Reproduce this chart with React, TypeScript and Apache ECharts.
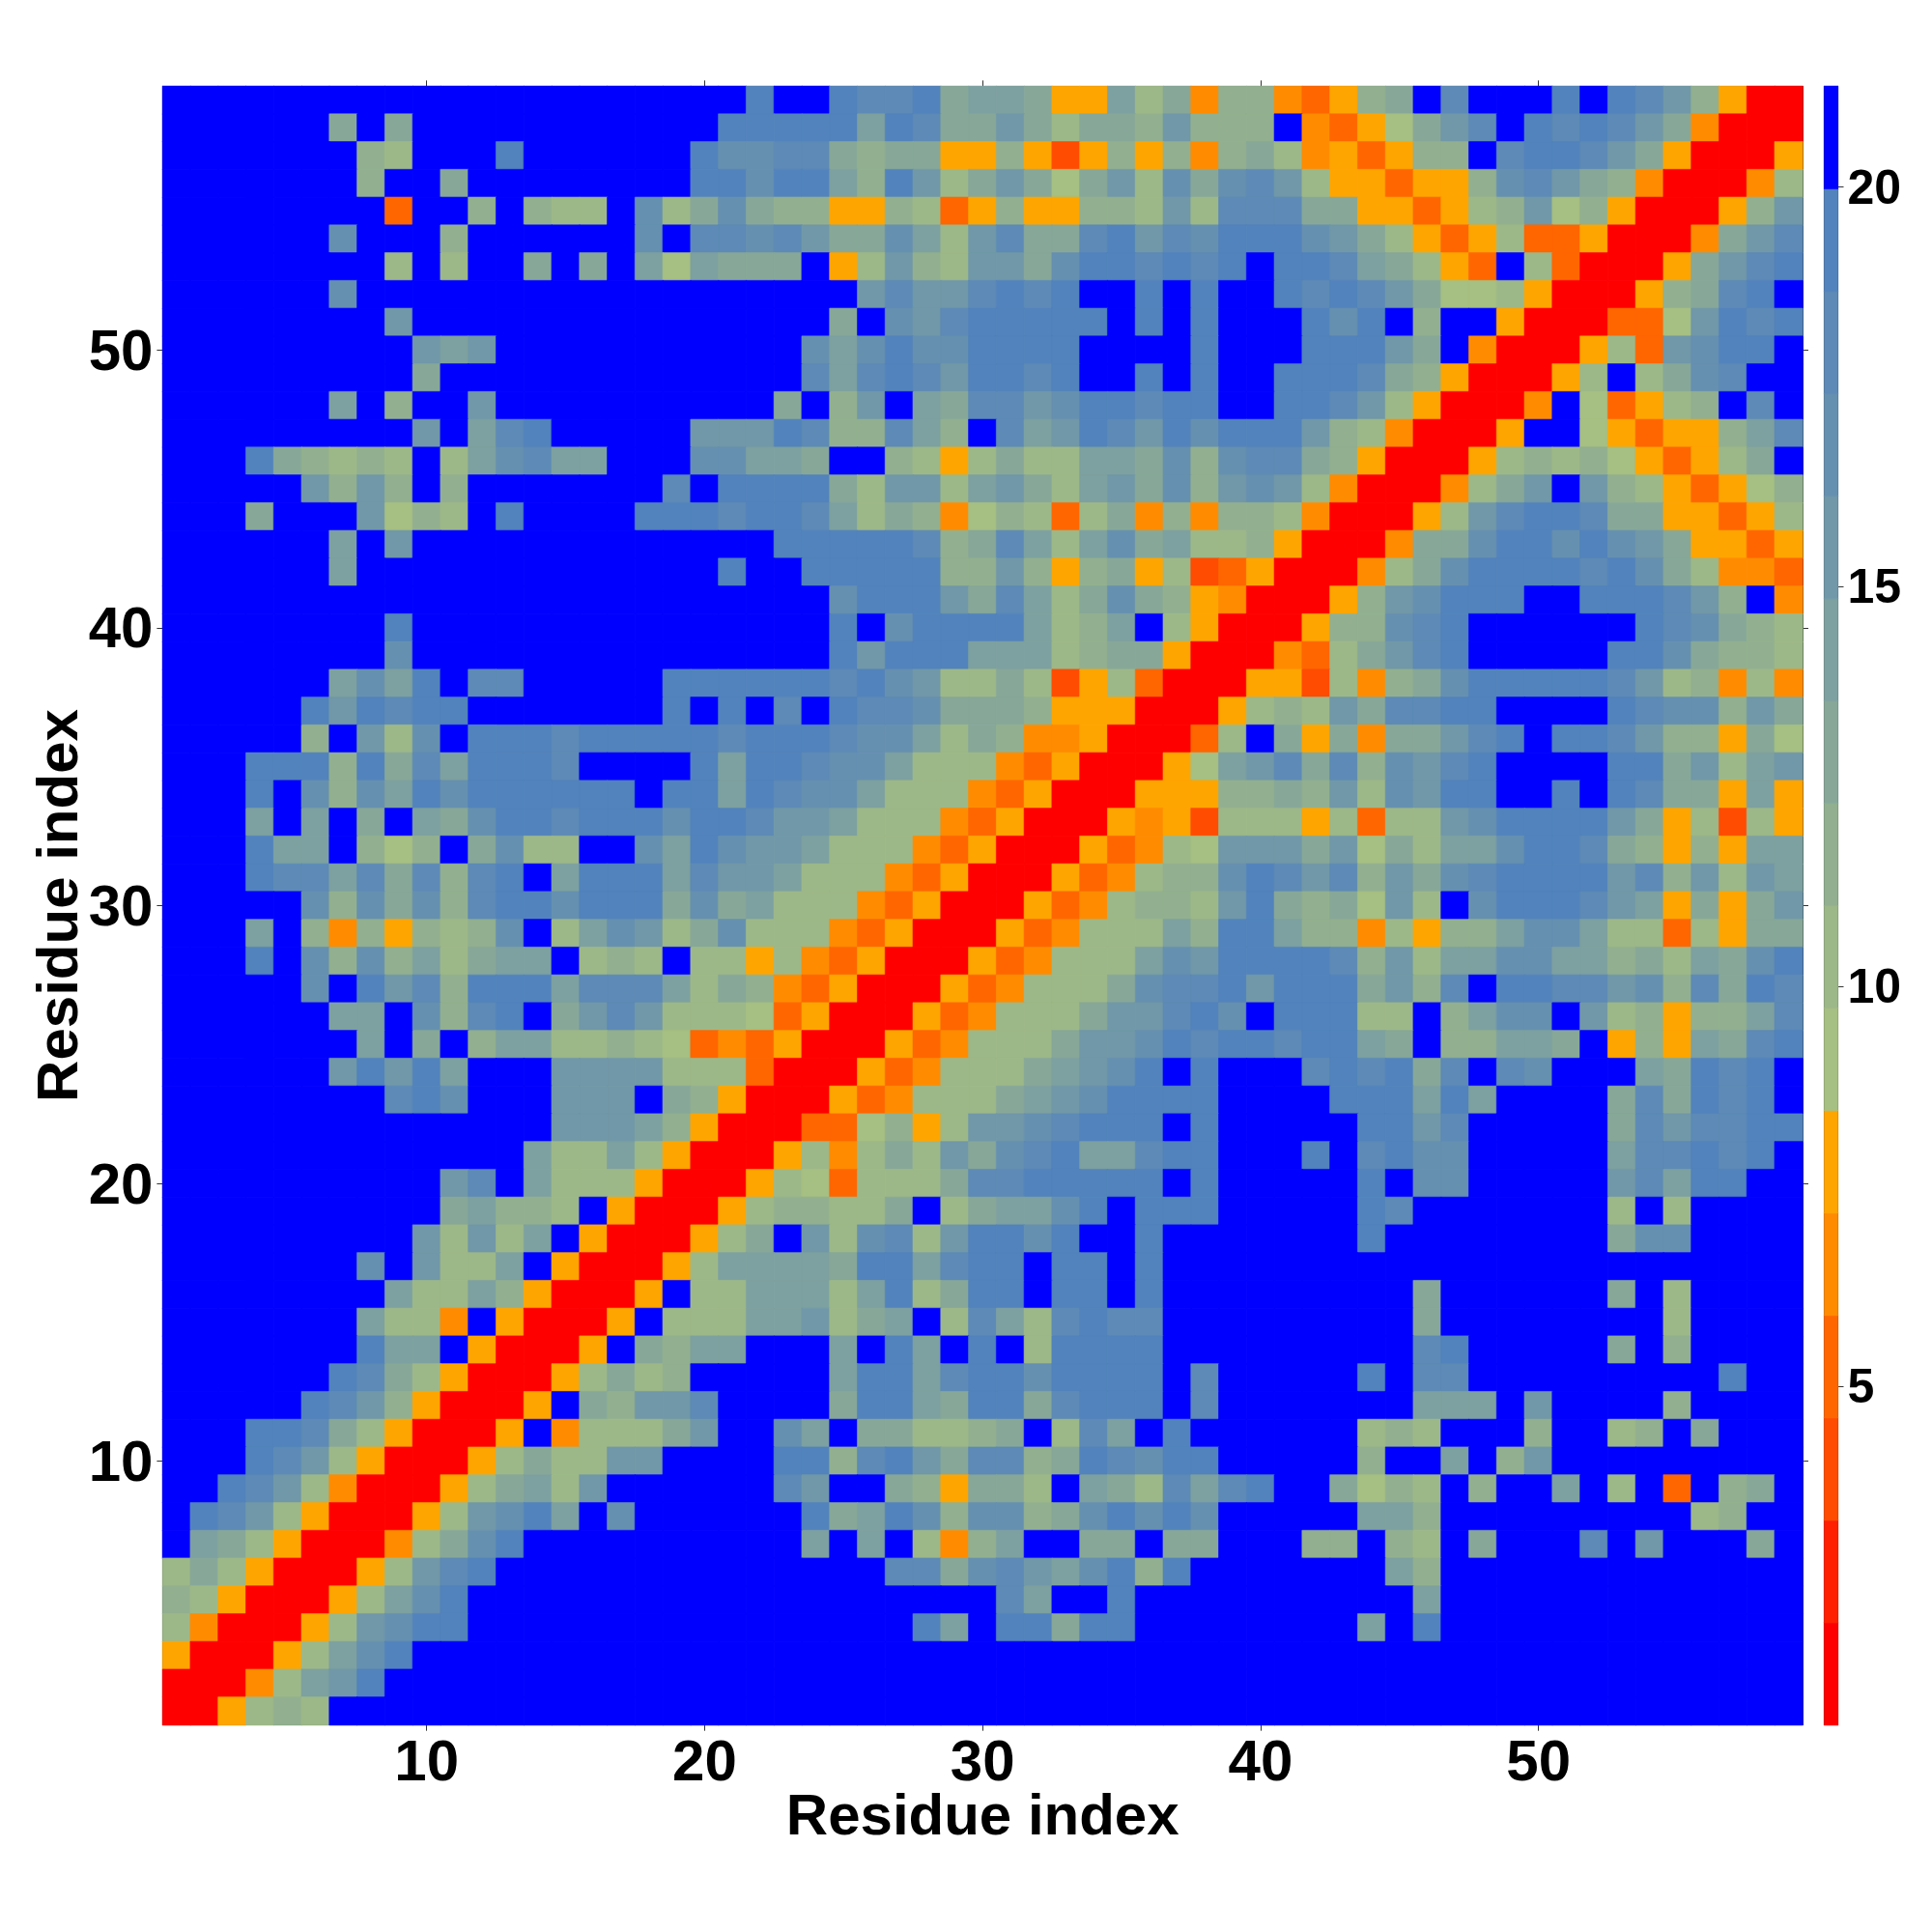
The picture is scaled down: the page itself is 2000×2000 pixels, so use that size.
import React, { useEffect, useRef } from "react";
import * as echarts from "echarts";

// Colour levels, lowest first: one per band of the colour bar.
const levelColors = [
  "#ff0000", "#ff2000", "#ff4c00", "#ff6600", "#ff8c00", "#ffa500",
  "#a6bf82", "#9db888", "#92b08f", "#87a898", "#7da1a0", "#7198a8",
  "#6690b0", "#5d8ab6", "#5283bc", "#0000ff",
];
const scaleMin = 0.76;
const scaleStep = 1.2813;
const colorBarTicks = [5, 10, 15, 20];
const axisTitle = "Residue index";
const residues = Array.from({ length: 59 }, (_, i) => String(i + 1));

// Band index (hex digit) of every cell. First line is residue 59 of the y axis, columns run 1..59.
const rows = [
  "ffffffffff ffffffffff feffedde9a a955a79488 43589fdfff efedb8500",
  "ffffff9f9f ffffffffff eeeeeaed99 b97998b888 f43569bdfe dedb94000",
  "fffffff87f ffeffffffe ccdd989955 8525858489 7453588fde edb950005",
  "fffffff8ff 9ffffffffe eceea8eb79 b969b7c9cd b7553558cd b98400047",
  "ffffffff3f f8f877fc79 c988558735 855887b7dd d99553578b 68500058b",
  "ffffffcfff 8ffffffcfd dcdb99ca7b d99debdcee ecb9753573 3500049bd",
  "ffffffff7f 7ff9f9fa6a 999f57b87b b9ceededef eeda9753f7 300059bde",
  "ffffffcfff ffffffffff fffffbdbbd edeffefeff ededb96675 000589def",
  "ffffffffbf ffffffffff ffff9fcbde eeeefefeff fecef8ff50 00336bede",
  "fffffffffb abffffffff fffcacecce eeeffffeff feeeb9f400 0573bceef",
  "fffffffff9 ffffffffff fffdadedbe edeffefeff eeed985000 57f79cdff",
  "ffffffaf8f fbffffffff ff9f8bfa9d dbceedeeff eedb750004 f63578fdf",
  "fffffffffb fadefffffb bbed88da8f dabedbecee eb8740005f f653558ad",
  "fffe98787f 7acdaafffc caa9ff8757 977aa9c8cd d985000578 78653579f",
  "fffffb8b8f 8fffffffdf eeee97bb7a b97ab9c8bc b74000479b fb8753568",
  "fff9fffb68 7feffffeee deeda79846 8737948488 7400057bde ed9955357",
  "ffffffafbf ffffffffff ffeeeeed89 da7ac9a778 5000499cee cecb95535",
  "ffffffafff ffffffffff effeeeee88 b858957235 000479ceee edec97443",
  "ffffffffff ffffffffff ffffceeeb9 da79c98540 0058bceeef feeedb8f4",
  "ffffffffef ffffffffff ffffefceee ea78af7500 0588cdefff fffedc987",
  "ffffffffcf ffffffffff ffffebeeea aa78995000 4379bdefff ffeec9887",
  "ffffffacae fddfffffee eeeedecb77 9725730005 527489ceee eedb78474",
  "fffffebede efffffffef efdfeddc99 9855500057 87b9ddeeff ffedcc8b9",
  "fffff8fb7c feeedeeeee deeedcca79 844500037f 959499bdef eedb88596",
  "fffeee8e9d aeeedffffe aeedcca777 43500056ab d9d8cbdeff ffee9b7ab",
  "fffefc8cae ceeeeeefee aedcca7774 3500055588 98b7cbeeff efed995a5",
  "fffafaf9fa 9ceedeeece edbba77743 5000545277 757377bcee eeb957275",
  "fffeaaf868 f9c77ffcae cbba777435 00053476bb b9b697aace ed98585aa",
  "fffeddad9d 8defaeeead bba7774350 00534788ce dbd8b9cdee eebd8b7ba",
  "fffffc8c9c 8deeceee9c 9a77743500 05347887be 9896b7fcee edba5959b",
  "fffaf84858 78cf7acb79 c777435000 534777a8ee a8847588ac ca7737599",
  "fffefc8c8a 79aaf787f7 7574350005 34777acbee eed8b7aacc aa897a9ce",
  "fffffcfebd 8eeeaddda7 9843500053 47779cddeb eee9b8dfee ddbc8d9ed",
  "ffffffaafc 8def9bdb77 7635000534 7779bbdecf eee77f8acc fb78588ad",
  "fffffffaf9 f8aa778763 4350005347 779bbcedee deea9f88aa 9f585a9de",
  "ffffffbebe afffbbbb77 7300053477 79abcefeff fdede9dfdc fffa9edef",
  "ffffffffde cfffbbbf98 5000534777 9abceeeeff ffeeeaeaff ff9d9edef",
  "ffffffffff ffffbbba85 000336857b bcdeeefeff fffeebdfff ff9dbddee",
  "ffffffffff fffa77a750 00574797b9 cdeaadeeff fefdeccfff ffaddedef",
  "ffffffffff bdfa777500 057637779d deeeeefeff fffefccfff ffbdaeeff",
  "ffffffffff 9a887f5000 5788779f79 aacefeeeff fffedfffff ff7f7ffff",
  "fffffffffb 7b7af50005 79fb7cd7be eceffeffff fffeffffff ff9ccffff",
  "fffffffcfb 77af500057 aaaa9eeade efeefeffff ffffffffff fffffffff",
  "ffffffffa7 7a850005f7 7aaa7ae79e efeefeffff fffff9ffff ff9f7ffff",
  "fffffffa77 4f50005f77 7aab79af7d a7deddffff fffff9ffff ffff7ffff",
  "fffffffeaa f50005f98a afffafeafe f7eeeeffff fffffdefff ff9f8ffff",
  "ffffffed97 500057978f ffffaeeade eceeeefdff fffefddfff ffffffeff",
  "fffffedb85 0005f98bbd ffff9eea9e e9deeefdff fffffaaafb ffff8ffff",
  "fffeed9750 005f47779b ffcaf99778 9f7dafefff fff787fff8 ff78f9fff",
  "fffedb7500 057977bbff ffee8deb9d d89edceeff fff8ffaf8b fffffffff",
  "ffedb74000 579a7bffff ffdbff9859 97fa97dade ff9687f8ff af7f3f89f",
  "fedb750005 7bceafcfff fffe9aec8c c89cececff fffaa8ffff fffff78ff",
  "fa97500047 9cefffffff fffafaf748 aff99f99ff f88f87f9ff fdfbfff9f",
  "797500057b deffffffff ffffffdd9c dbace8efff ffffa8ffff fffffffff",
  "87500057ac efffffffff ffffffffff daffefffff fffffaffff fffffffff",
  "7400057bce efffffffff fffffffeaf ee9eefffff fffafeffff fffffffff",
  "500057acef ffffffffff ffffffffff ffffffffff ffffffffff fffffffff",
  "00047abeff ffffffffff ffffffffff ffffffffff ffffffffff fffffffff",
  "005787ffff ffffffffff ffffffffff ffffffffff ffffffffff fffffffff",
];

const levelValue = (level: number) => scaleMin + (level + 0.5) * scaleStep;
// A hairline border in the cell's own colour closes the seams between neighbouring cells.
const cellStyle = (level: number) => ({ borderColor: levelColors[level], borderWidth: 0.6 });

const cells: { value: number[]; itemStyle: object }[] = [];
rows.forEach((row, r) => {
  row.replace(/ /g, "").split("").forEach((ch, c) => {
    const level = parseInt(ch, 16);
    cells.push({ value: [c, 58 - r, levelValue(level)], itemStyle: cellStyle(level) });
  });
});
const bandIndex = levelColors.map((_, i) => String(i));
const bandCells = levelColors.map((_, i) => ({ value: [0, i, levelValue(i)], itemStyle: cellStyle(i) }));

const FONT = "Liberation Sans";
const everyTenth = (i: number) => (i + 1) % 10 === 0;
const line = { show: true, lineStyle: { color: "#333", width: 1 } };

export default function App() {
  const ref = useRef<HTMLDivElement>(null);
  useEffect(() => {
    document.body.style.margin = "0";
    const chart = echarts.init(ref.current!, null, { renderer: "svg" });
    const mainTick = { show: true, length: 6, alignWithLabel: true, interval: everyTenth, lineStyle: { color: "#333", width: 1 } };
    const mainLabel = {
      show: true, interval: everyTenth, fontFamily: FONT, fontWeight: "bold" as const, fontSize: 60, color: "#000",
    };
    chart.setOption({
      animation: false,
      backgroundColor: "#fff",
      grid: [
        { left: 168.4, top: 89.3, width: 1697.6, height: 1696.4, containLabel: false },
        { left: 1888.5, top: 89.3, width: 14, height: 1696.4, containLabel: false },
      ],
      xAxis: [
        {
          type: "category", gridIndex: 0, data: residues, position: "bottom",
          axisLine: line, axisTick: mainTick,
          axisLabel: { ...mainLabel, margin: 14, lineHeight: 46 },
          splitLine: { show: false }, splitArea: { show: false },
          name: axisTitle, nameLocation: "middle", nameGap: 70, nameMoveOverlap: false,
          nameTextStyle: { fontFamily: FONT, fontWeight: "bold", fontSize: 60, color: "#000", lineHeight: 46 },
        },
        {
          type: "category", gridIndex: 0, data: residues, position: "top",
          axisLine: line, axisTick: mainTick, axisLabel: { show: false }, splitLine: { show: false },
        },
        {
          type: "category", gridIndex: 1, data: [""], position: "bottom",
          axisLine: line, axisTick: { show: false }, axisLabel: { show: false }, splitLine: { show: false },
        },
      ],
      yAxis: [
        {
          type: "category", gridIndex: 0, data: residues, position: "left",
          axisLine: line, axisTick: mainTick,
          axisLabel: { ...mainLabel, margin: 10 },
          splitLine: { show: false }, splitArea: { show: false },
          name: axisTitle, nameLocation: "middle", nameGap: 79, nameRotate: 90, nameMoveOverlap: false,
          nameTextStyle: { fontFamily: FONT, fontWeight: "bold", fontSize: 60, color: "#000" },
        },
        {
          type: "category", gridIndex: 0, data: residues, position: "right",
          axisLine: line, axisTick: mainTick, axisLabel: { show: false }, splitLine: { show: false },
        },
        {
          type: "category", gridIndex: 1, data: bandIndex, position: "left",
          axisLine: line, axisTick: { show: false }, axisLabel: { show: false }, splitLine: { show: false },
        },
        {
          type: "value", gridIndex: 1, position: "right",
          min: scaleMin, max: scaleMin + 16 * scaleStep,
          axisLine: line,
          axisTick: { show: true, length: 6, customValues: colorBarTicks, lineStyle: { color: "#333", width: 1 } },
          axisLabel: {
            show: true, customValues: colorBarTicks, margin: 10,
            fontFamily: FONT, fontWeight: "bold", fontSize: 50, color: "#000",
          },
          splitLine: { show: false },
        },
      ],
      visualMap: {
        show: false,
        type: "piecewise",
        seriesIndex: [0, 1],
        pieces: levelColors.map((color, i) => ({
          min: scaleMin + i * scaleStep,
          max: scaleMin + (i + 1) * scaleStep,
          color,
        })),
      },
      series: [
        {
          type: "heatmap", xAxisIndex: 0, yAxisIndex: 0, data: cells, progressive: 0,
          emphasis: { disabled: true },
        },
        {
          type: "heatmap", xAxisIndex: 2, yAxisIndex: 2, data: bandCells, progressive: 0,
          emphasis: { disabled: true },
        },
      ],
    });
    return () => chart.dispose();
  }, []);
  return <div ref={ref} style={{ position: "absolute", left: 0, top: 0, width: 2000, height: 2000 }} />;
}
